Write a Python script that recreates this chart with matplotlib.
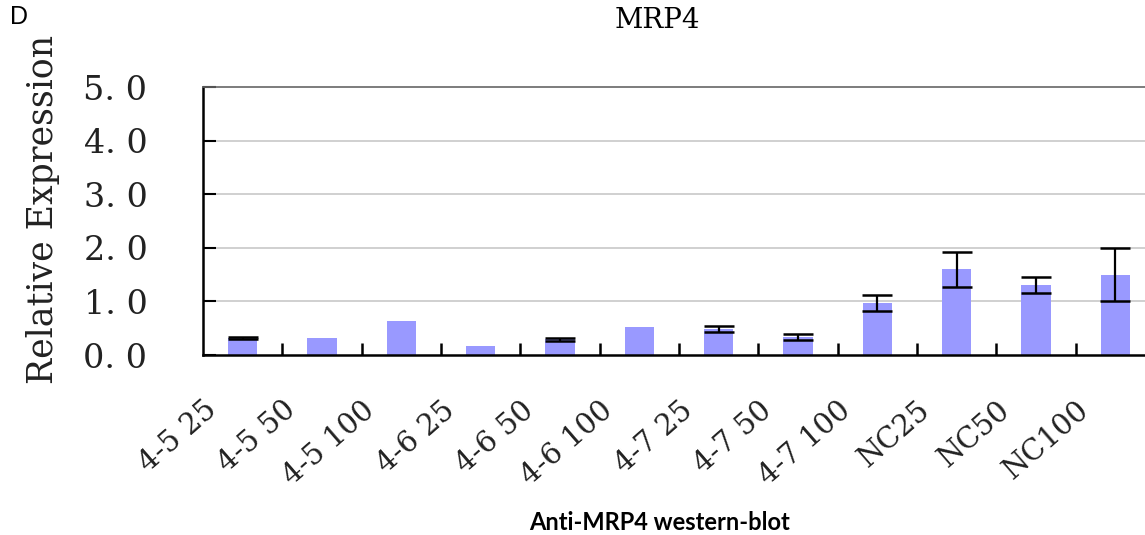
import matplotlib.pyplot as plt
import matplotlib.transforms as mtransforms
import numpy as np

categories = ['4-5 25', '4-5 50', '4-5 100', '4-6 25', '4-6 50', '4-6 100',
              '4-7 25', '4-7 50', '4-7 100', 'NC25', 'NC50', 'NC100']
values = [0.32, 0.32, 0.64, 0.17, 0.29, 0.52, 0.49, 0.33, 0.97, 1.60, 1.31, 1.50]
errors = [0.02, 0.0, 0.0, 0.0, 0.02, 0.0, 0.06, 0.055, 0.15, 0.33, 0.15, 0.50]
yticks = [0, 1, 2, 3, 4, 5]
ytick_labels = ['0. 0', '1. 0', '2. 0', '3. 0', '4. 0', '5. 0']

serif = 'DejaVu Serif'

fig = plt.figure(figsize=(11.45, 5.35), dpi=100)
ax = fig.add_axes([203 / 1145, 1 - 355 / 535, 952 / 1145, 268 / 535])

x = np.arange(len(categories))
has_err = [e > 0 for e in errors]
ax.bar(x, values, width=0.37, color='#9999ff', zorder=2)
ax.errorbar(x[has_err], np.array(values)[has_err], yerr=np.array(errors)[has_err],
            fmt='none', ecolor='black', elinewidth=1.6, capsize=11, capthick=1.8, zorder=3)

ax.set_xlim(-0.5, len(categories) - 0.5)
ax.set_ylim(0, 5)

# grid lines
for y in yticks[1:-1]:
    ax.axhline(y, color='#c8c8c8', lw=1.2, zorder=1)

ax.spines['top'].set_color('#666666')
ax.spines['top'].set_linewidth(1.2)
ax.spines['right'].set_visible(False)
ax.spines['left'].set_linewidth(1.8)
ax.spines['bottom'].set_linewidth(1.8)

ax.set_yticks(yticks)
ax.set_yticklabels(ytick_labels, fontsize=24, family=serif, color='#222222')
ax.tick_params(axis='y', direction='in', length=9, width=1.5, pad=40)

# category labels at centers, tick marks between categories
ax.set_xticks(x)
ax.set_xticklabels(categories, fontsize=21, family=serif, rotation=41,
                   ha='right', va='center', rotation_mode='anchor', color='#222222')
ax.tick_params(axis='x', which='major', length=0, pad=37)
ax.set_xticks(np.arange(len(categories)) + 0.5, minor=True)
ax.tick_params(axis='x', which='minor', direction='in', length=9, width=1.8)
offset = mtransforms.ScaledTranslation(-0.3, 0, fig.dpi_scale_trans)
for lab in ax.get_xticklabels():
    lab.set_transform(lab.get_transform() + offset)

fig.text(43 / 1145, 1 - 209 / 535, 'Relative Expression', rotation=90,
         ha='center', va='center', fontsize=25, family=serif, color='#222222')
fig.text(657 / 1145, 1 - 20 / 535, 'MRP4', ha='center', va='center',
         fontsize=20, family=serif)
fig.text(10 / 1145, 1 - 17 / 535, 'D', ha='left', va='center',
         fontsize=18, family='Liberation Sans')
fig.text(659 / 1145, 1 - 523 / 535, 'Anti-MRP4 western-blot', ha='center',
         va='center', fontsize=17, family='Lato', fontweight='bold')

fig.savefig('out.png', dpi=100)
